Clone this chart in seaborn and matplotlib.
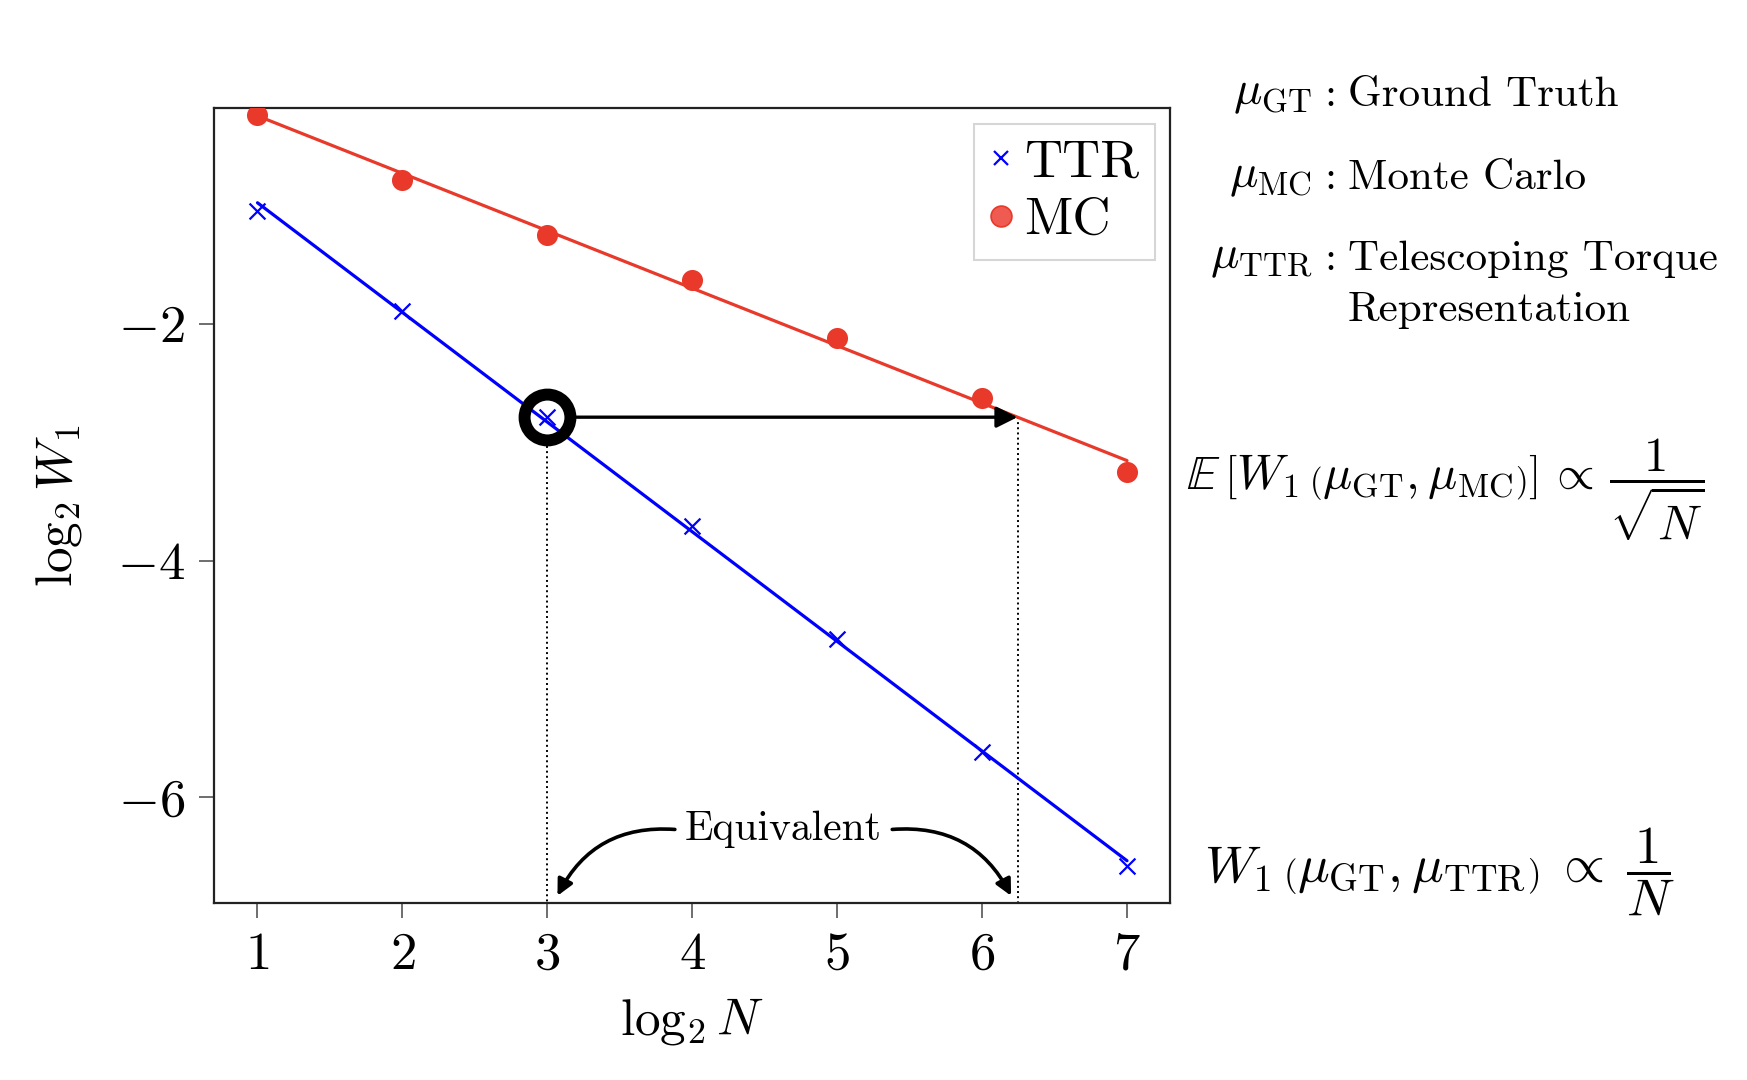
import numpy as np
import matplotlib
matplotlib.use("Agg")
import matplotlib.pyplot as plt
import seaborn as sns
from matplotlib.lines import Line2D

# values
log2_n = [1, 2, 3, 4, 5, 6, 7]
ttr_w1 = [-1.05, -1.89, -2.79, -3.71, -4.66, -5.62, -6.58]
mc_w1 = [-0.24, -0.79, -1.25, -1.63, -2.12, -2.63, -3.25]
x_ticks = [1, 2, 3, 4, 5, 6, 7]
y_ticks = [-2, -4, -6]
y_tick_labels = ["$-2$", "$-4$", "$-6$"]
series_names = ["TTR", "MC"]

red = "#E8392B"
blue = "#0000FF"

sns.set_theme(style="white")
plt.rcParams["font.family"] = ["cmr10", "DejaVu Sans"]
plt.rcParams["mathtext.fontset"] = "cm"
plt.rcParams["axes.unicode_minus"] = False
plt.rcParams["axes.formatter.use_mathtext"] = True
for k in ["text.color", "axes.labelcolor", "xtick.labelcolor", "ytick.labelcolor"]:
    plt.rcParams[k] = "black"

fig = plt.figure(figsize=(17.47, 10.8), dpi=100)
ax = fig.add_axes([0.1225, 0.164, 0.5475, 0.736])

# fitted lines + points
sns.regplot(x=log2_n, y=ttr_w1, ax=ax, ci=None, truncate=True, marker="x",
            scatter_kws=dict(color=blue, s=130, linewidths=1.6, alpha=1, zorder=4),
            line_kws=dict(color=blue, lw=2.3, zorder=3))
sns.regplot(x=log2_n, y=mc_w1, ax=ax, ci=None, truncate=True, marker="o",
            scatter_kws=dict(color=red, s=230, linewidths=0, alpha=1, zorder=4),
            line_kws=dict(color=red, lw=2.3, zorder=3))

ax.set_xlim(0.7, 7.3)
ax.set_ylim(-6.89, -0.18)
ax.set_xticks(x_ticks)
ax.set_xticklabels([f"${t}$" for t in x_ticks])
ax.set_yticks(y_ticks)
ax.set_yticklabels(y_tick_labels)
ax.tick_params(axis="both", which="major", labelsize=38, length=11, width=1.2,
               color="#555555", direction="out", bottom=True, left=True, pad=10)
for s in ax.spines.values():
    s.set_color("#222222")
    s.set_linewidth(1.6)

ax.set_xlabel(r"$\log_2 N$", fontsize=37, labelpad=12)
ax.set_ylabel(r"$\log_2 W_1$", fontsize=37, labelpad=24)

# equivalent-accuracy marker: circle on TTR point at x=3, arrow to MC fit
mc_slope, mc_icpt = np.polyfit(log2_n, mc_w1, 1)
y_eq = ttr_w1[2]
x_eq = (y_eq - mc_icpt) / mc_slope
ax.plot([log2_n[2]], [y_eq], marker="o", ms=33, mfc="none", mec="black", mew=8.6, zorder=6)
ax.annotate("", xy=(x_eq, y_eq), xytext=(log2_n[2] + 0.2, y_eq),
            arrowprops=dict(arrowstyle="-|>", color="black", lw=2.4, mutation_scale=32,
                            shrinkA=0, shrinkB=0), zorder=5)
ybot = ax.get_ylim()[0]
ax.plot([log2_n[2], log2_n[2]], [y_eq - 0.24, ybot], ls=":", color="black", lw=1.4, zorder=2)
ax.plot([x_eq, x_eq], [y_eq, ybot], ls=":", color="black", lw=1.4, zorder=2)

ax.text(4.63, -6.27, "Equivalent", fontsize=30, ha="center", va="center")
ax.annotate("", xy=(3.07, -6.83), xytext=(3.88, -6.27),
            arrowprops=dict(arrowstyle="-|>", color="black", lw=2.6, mutation_scale=24,
                            shrinkA=0, shrinkB=0, connectionstyle="arc3,rad=0.33"))
ax.annotate("", xy=(6.2, -6.83), xytext=(5.38, -6.27),
            arrowprops=dict(arrowstyle="-|>", color="black", lw=2.6, mutation_scale=24,
                            shrinkA=0, shrinkB=0, connectionstyle="arc3,rad=-0.33"))

# legend
handles = [
    Line2D([], [], ls="none", marker="x", color=blue, ms=10, mew=1.6),
    Line2D([], [], ls="none", marker="o", mfc="#EF5B50", mec=red, ms=15, mew=1.2),
]
leg = ax.legend(handles, series_names, loc="upper right", fontsize=38, frameon=True,
                fancybox=False, edgecolor="#cccccc", handlelength=0.45, handletextpad=0.2,
                borderaxespad=0.3, borderpad=0.3, labelspacing=0.2)
leg.get_frame().set_linewidth(1.5)

# right-hand annotations
fs = 31
rows = [(r"$\mu_{\mathrm{GT}}$", "Ground Truth", 0.912),
        (r"$\mu_{\mathrm{MC}}$", "Monte Carlo", 0.835),
        (r"$\mu_{\mathrm{TTR}}$", "Telescoping Torque", 0.760)]
for sym, desc, yy in rows:
    fig.text(0.751, yy, sym, fontsize=34, ha="right", va="center")
    fig.text(0.758, yy, ":", fontsize=fs, ha="left", va="center")
    fig.text(0.7715, yy, desc, fontsize=fs, ha="left", va="center")
fig.text(0.7715, 0.713, "Representation", fontsize=fs, ha="left", va="center")

fig.text(0.679, 0.546,
         r"$\mathbb{E}\,\left[W_1\,\left(\mu_{\mathrm{GT}},\mu_{\mathrm{MC}}\right)\right]\,\propto\,\dfrac{1}{\sqrt{N}}$",
         fontsize=35, ha="left", va="center")
fig.text(0.689, 0.193,
         r"$W_1\,\left(\mu_{\mathrm{GT}},\mu_{\mathrm{TTR}}\right)\;\propto\;\dfrac{1}{N}$",
         fontsize=38, ha="left", va="center")

fig.savefig("out.png", dpi=100)
